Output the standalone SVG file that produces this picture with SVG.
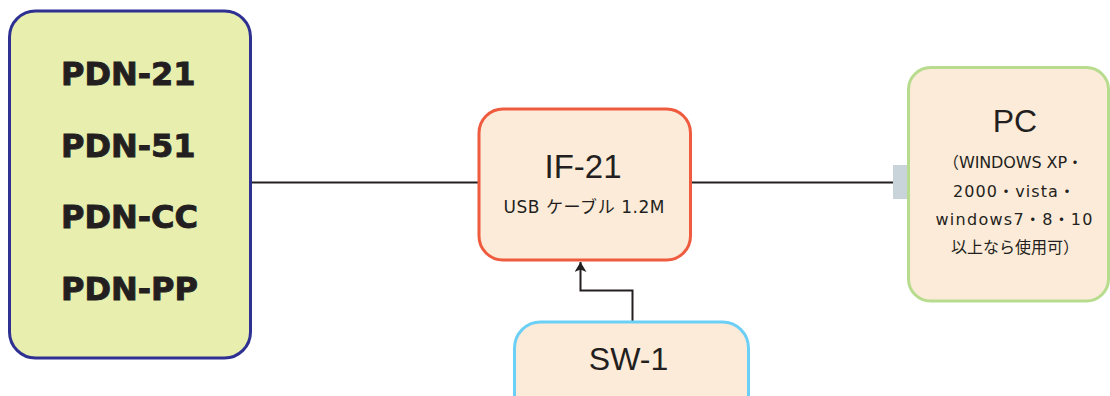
<svg xmlns="http://www.w3.org/2000/svg" width="1110" height="396" viewBox="0 0 1110 396">
<style>
.box{stroke-width:3}
.t{fill:#231f20;font-family:"Liberation Sans","Noto Sans CJK JP",sans-serif;text-anchor:middle}
.s{fill:#231f20;font-family:"DejaVu Sans","Noto Sans CJK JP",sans-serif;text-anchor:middle;font-size:16px}
.pdn{fill:#231f20;stroke:#231f20;stroke-width:0.9;font-family:"DejaVu Sans",sans-serif;font-weight:bold;font-size:32px}
.conn{stroke:#231f20;stroke-width:2;fill:none}
</style>
<defs>
<marker id="ah" viewBox="0 0 10 12" refX="10" refY="6" markerWidth="10" markerHeight="12" markerUnits="userSpaceOnUse" orient="auto">
<path d="M0,0 L10,6 L0,12 L2.5,6 Z" fill="#231f20"/>
</marker>
</defs>
<rect width="1110" height="396" fill="#ffffff"/>
<g id="connectors">
<line class="conn" x1="251" y1="182.5" x2="479" y2="182.5"/>
<line class="conn" x1="691" y1="182.5" x2="894" y2="182.5"/>
<rect x="893" y="165" width="15" height="34" fill="#c8d4d9"/>
<path class="conn" d="M632.5,321 V290.5 H580.5 V262" marker-end="url(#ah)"/>
</g>
<g id="pdn">
<rect class="box" x="9.5" y="11" width="241" height="347" rx="26" fill="#e8eeae" stroke="#2e3192"/>
<text class="pdn" x="61" y="85">PDN-21</text>
<text class="pdn" x="61" y="157">PDN-51</text>
<text class="pdn" x="61" y="228">PDN-CC</text>
<text class="pdn" x="61" y="300">PDN-PP</text>
</g>
<g id="if21">
<rect class="box" x="479" y="109" width="211.5" height="151" rx="24" fill="#fdebd9" stroke="#ef5b3f"/>
<text class="t" x="583" y="178" font-size="33">IF-21</text>
<text class="s" x="584" y="213" font-size="17" style="font-size:17px" textLength="161" lengthAdjust="spacing">USB ケーブル 1.2M</text>
</g>
<g id="pc">
<rect class="box" x="908.5" y="67.5" width="200" height="233.5" rx="22" fill="#fdebd9" stroke="#b8dc8e"/>
<text class="t" x="1015" y="132" font-size="32">PC</text>
<text class="s" x="1013" y="168" textLength="140" lengthAdjust="spacing">（WINDOWS XP・</text>
<text class="s" x="1014" y="196.5" textLength="122" lengthAdjust="spacing">2000・vista・</text>
<text class="s" x="1014" y="224.5" textLength="157" lengthAdjust="spacing">windows7・8・10</text>
<text class="s" x="1015" y="252.5">以上なら使用可）</text>
</g>
<g id="sw1">
<rect class="box" x="514.5" y="322" width="234" height="100" rx="26" fill="#fdebd9" stroke="#6ccff6"/>
<text class="t" x="628.5" y="370" font-size="32">SW-1</text>
</g>
</svg>
